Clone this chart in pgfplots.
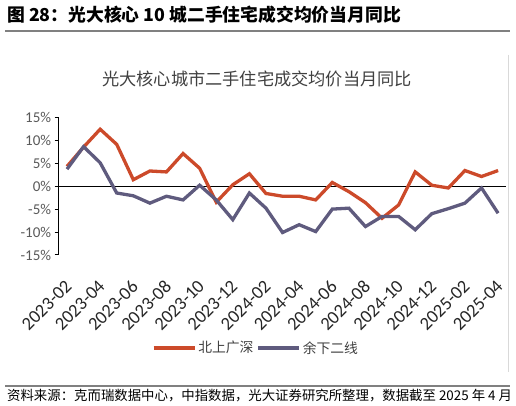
\documentclass[border=0pt]{standalone}
\usepackage{pgfplots}
\usepackage{pgfplotstable}
\pgfplotsset{compat=1.18}
\usepackage{fontspec}
\setmainfont{Noto Sans CJK SC}
\newfontfamily\calfont{Carlito}
\definecolor{cred}{HTML}{CC4A2A}
\definecolor{cblue}{HTML}{5F5B7E}
\definecolor{txt}{HTML}{404040}
\definecolor{tick}{HTML}{595959}

\pgfplotstableread{
idx bsgs rest
0  4.3  3.7
1  8.5  8.6
2  12.4 5.1
3  9.1  -1.5
4  1.4  -2.1
5  3.3  -3.7
6  3.1  -2.2
7  7.1  -3.0
8  3.9  0.2
9  -3.5 -3.0
10 0.3  -7.3
11 2.7  -1.5
12 -1.6 -4.8
13 -2.2 -10.1
14 -2.2 -8.4
15 -3.0 -9.9
16 0.8  -5.0
17 -1.2 -4.8
18 -3.6 -8.8
19 -7.0 -6.6
20 -4.1 -6.6
21 3.1  -9.5
22 0.2  -6.0
23 -0.4 -4.9
24 3.4  -3.7
25 2.1  -0.4
26 3.4  -5.9
}\datatable

\begin{document}
\begin{tikzpicture}[x=1pt,y=1pt]
\useasboundingbox (0,0) rectangle (516,406);
\node[anchor=west, font=\fontsize{17.8}{19}\selectfont\bfseries, text=black, inner sep=0] at (7,391) {图 28：光大核心 10 城二手住宅成交均价当月同比};
\draw[color=gray, line width=1.2] (5,375) -- (510,375);
\draw[color=black!15, line width=0.8] (508,351) -- (508,34);
\node[font=\fontsize{17.2}{19}\selectfont, text=txt, inner sep=0] at (257,327) {光大核心城市二手住宅成交均价当月同比};
\draw[color=gray, line width=1.2] (5,20) -- (510,20);
\node[anchor=west, font=\fontsize{13.4}{15}\selectfont, text=black, inner sep=0] at (7,10) {资料来源：克而瑞数据中心，中指数据，光大证券研究所整理，数据截至 2025 年 4 月};
\begin{axis}[
  at={(58.7pt,151pt)}, anchor=south west,
  scale only axis, width=447.7pt, height=137.7pt,
  xmin=-0.5, xmax=26.5, ymin=-15, ymax=15,
  axis y line*=left, axis x line*=bottom,
  x axis line style={draw=none},
  y axis line style={line width=1.3pt, black},
  tick align=outside, major tick length=4pt,
  ytick={-15,-10,-5,0,5,10,15},
  yticklabels={-15\%,-10\%,-5\%,0\%,5\%,10\%,15\%},
  ytick style={black, line width=1pt},
  yticklabel style={font=\calfont\fontsize{15}{16}\selectfont, text=tick},
  xtick={0,2,...,26},
  xticklabels={2023-02,2023-04,2023-06,2023-08,2023-10,2023-12,2024-02,2024-04,2024-06,2024-08,2024-10,2024-12,2025-02,2025-04},
  xtick style={draw=none},
  xticklabel shift=22pt,
  xticklabel style={xshift=4pt, font=\calfont\fontsize{18.5}{19}\selectfont, text=black!85, rotate=45, anchor=east},
  clip=false,
  legend style={at={(0.4407,-0.675)}, anchor=center, draw=none, fill=none,
    legend columns=2, font=\fontsize{13.8}{15}\selectfont, text=txt,
    /tikz/every even column/.append style={column sep=1pt}},
  legend image code/.code={\draw[#1] (0pt,0pt) -- (41pt,0pt);},
]
\addplot[black, line width=0.8pt, forget plot] coordinates {(-0.5,0) (26.5,0)};
\addplot[cred, line width=3.3pt] table[x=idx, y=bsgs] {\datatable};
\addlegendentry{北上广深}
\addplot[cblue, line width=3.3pt] table[x=idx, y=rest] {\datatable};
\addlegendentry{余下二线}
\end{axis}
\end{tikzpicture}
\end{document}
